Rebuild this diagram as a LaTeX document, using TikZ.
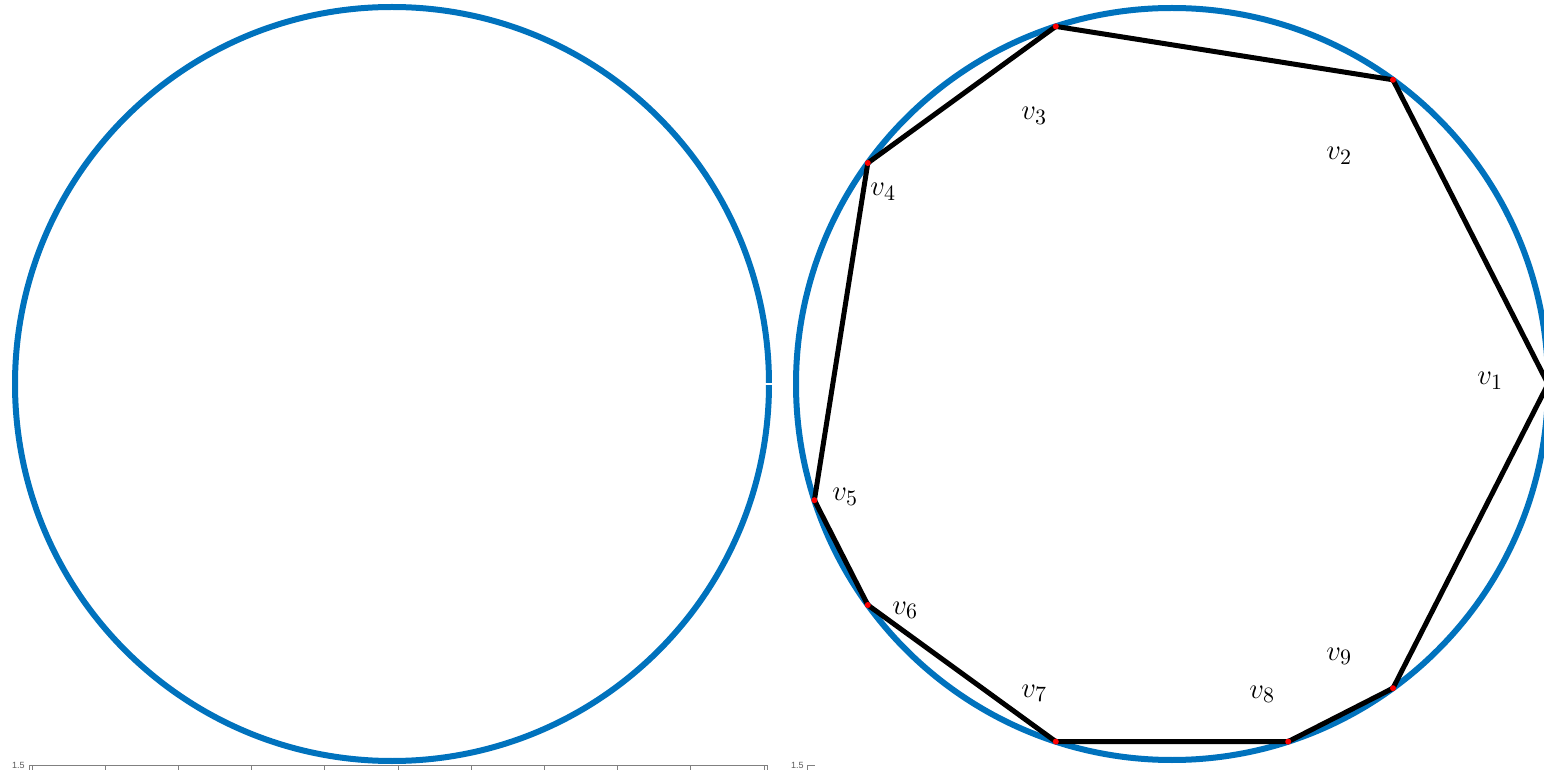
\documentclass[tikz,border=0pt]{standalone}
\usepackage{fontspec}
\newfontfamily\axisfont{Liberation Sans}
\definecolor{mblue}{HTML}{0072BD}
\definecolor{axisgray}{HTML}{808080}
\begin{document}
\begin{tikzpicture}[x=0.5pt,y=-0.5pt,
  circ/.style={draw=mblue,line width=3pt},
  edge/.style={draw=black,line width=2.5pt,line join=round},
  vdot/.style={fill=red},
  vlab/.style={anchor=base west,inner sep=0pt,font=\fontsize{15}{18}\selectfont},
  axisline/.style={draw=axisgray,line width=0.5pt},
  ticklab/.style={anchor=east,inner sep=0pt,font=\axisfont\fontsize{4.5}{5}\selectfont,text=axisgray!70!black}]
\useasboundingbox (0,0) rectangle (1544,770);
\begin{scope}
\clip (0,0) rectangle (1544,770);
% left circle
\draw[circ] (392,384) circle[radius=377];
\draw[white,line width=0.6pt] (765,384) -- (773,384);
% right circle
\draw[circ] (1172,384) circle[radius=376];
% vertices
\coordinate (p1) at (1548,384);
\coordinate (p2) at (1393,79.8);
\coordinate (p3) at (1055.8,26.4);
\coordinate (p4) at (867.8,163.0);
\coordinate (p5) at (814.4,500.2);
\coordinate (p6) at (867.8,605.0);
\coordinate (p7) at (1055.8,741.6);
\coordinate (p8) at (1288.2,741.6);
\coordinate (p9) at (1393,688.2);
\draw[edge] (p1) -- (p2) -- (p3) -- (p4) -- (p5) -- (p6) -- (p7) -- (p8) -- (p9) -- cycle;
\foreach \i in {1,...,9} \fill[vdot] (p\i) circle[radius=1.5pt];
% labels
\node[vlab] (l1) at (1477,385) {$v_1$};
\node[vlab] (l2) at (1326,160) {$v_2$};
\node[vlab] (l3) at (1021,120) {$v_3$};
\node[vlab] (l4) at (870,196) {$v_4$};
\node[vlab] (l5) at (832,501) {$v_5$};
\node[vlab] (l6) at (892,614) {$v_6$};
\node[vlab] (l7) at (1021,697) {$v_7$};
\node[vlab] (l8) at (1249,698) {$v_8$};
\node[vlab] (l9) at (1326,660) {$v_9$};
% axes
\draw[axisline] (29,780) -- (29,765) -- (767,765);
\foreach \t in {32,105.2,178.4,251.6,324.8,398,471.2,544.4,617.6,690.8,764}
  \draw[axisline] (\t,765) -- (\t,780);
\draw[axisline] (767,765) -- (767,780);
\node[ticklab] (a1) at (25,765) {1.5};
\draw[axisline] (807,780) -- (807,765) -- (815,765);
\node[ticklab] (a2) at (804,765) {1.5};
\end{scope}
\end{tikzpicture}
\end{document}
